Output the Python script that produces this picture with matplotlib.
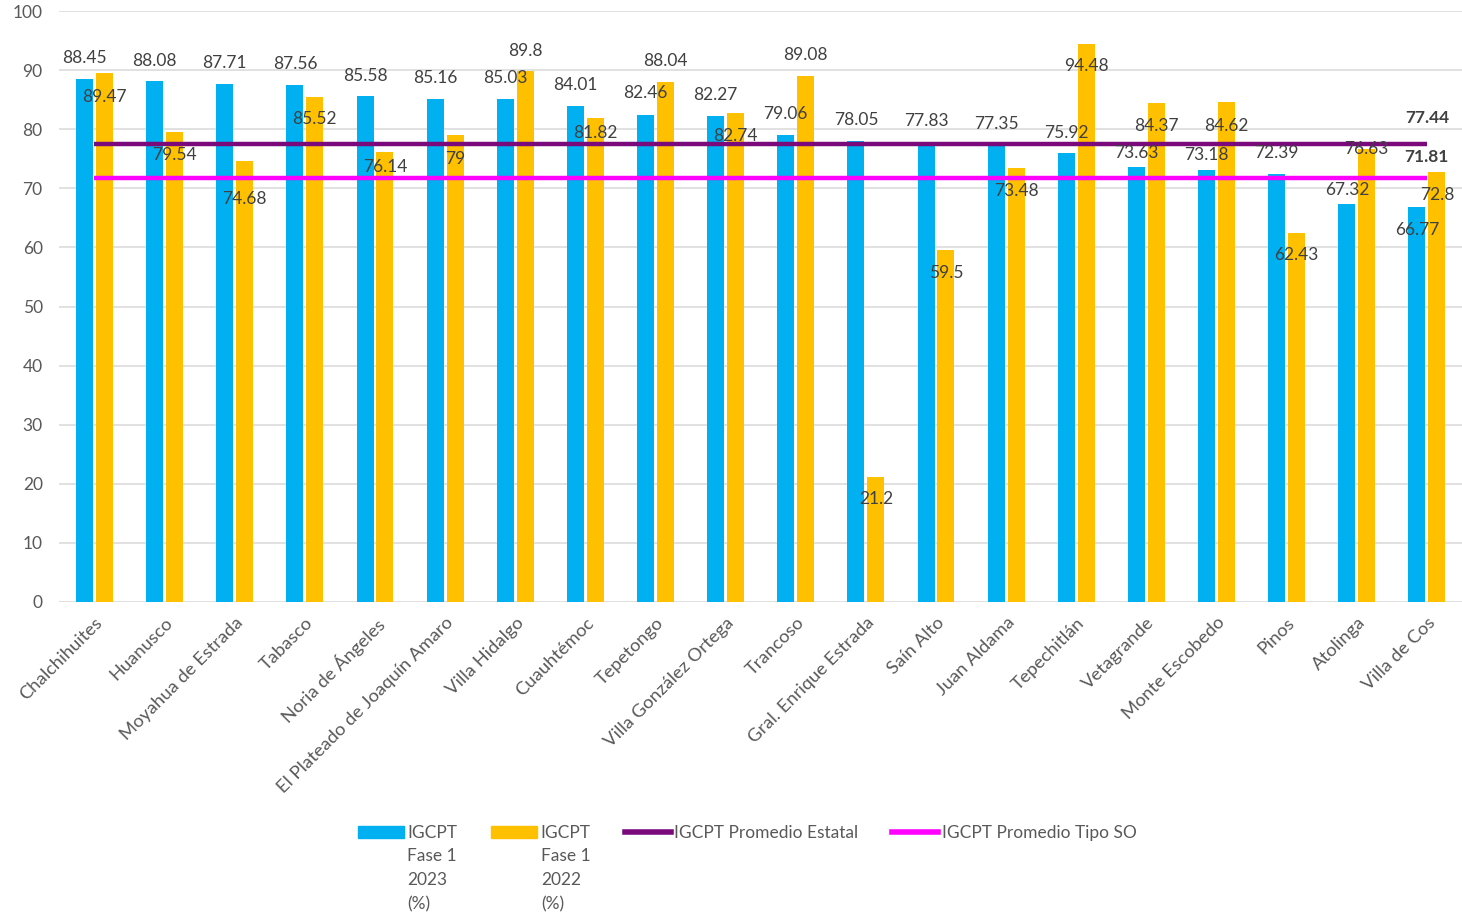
import matplotlib
matplotlib.use("Agg")
import matplotlib.pyplot as plt
import numpy as np

plt.rcParams["font.family"] = ["Lato", "DejaVu Sans"]

municipios = [
    "Chalchihuites", "Huanusco", "Moyahua de Estrada", "Tabasco", "Noria de Ángeles",
    "El Plateado de Joaquín Amaro", "Villa Hidalgo", "Cuauhtémoc", "Tepetongo",
    "Villa González Ortega", "Trancoso", "Gral. Enrique Estrada", "Saín Alto",
    "Juan Aldama", "Tepechitlán", "Vetagrande", "Monte Escobedo", "Pinos",
    "Atolinga", "Villa de Cos",
]
fase1_2023 = [88.45, 88.08, 87.71, 87.56, 85.58, 85.16, 85.03, 84.01, 82.46, 82.27,
              79.06, 78.05, 77.83, 77.35, 75.92, 73.63, 73.18, 72.39, 67.32, 66.77]
fase1_2022 = [89.47, 79.54, 74.68, 85.52, 76.14, 79, 89.8, 81.82, 88.04, 82.74,
              89.08, 21.2, 59.5, 73.48, 94.48, 84.37, 84.62, 62.43, 76.63, 72.8]
promedio_estatal = 77.44
promedio_tipo_so = 71.81

label_y_2023 = [92.0, 91.5, 91.2, 91.0, 89.0, 88.7, 88.7, 87.5, 86.1, 85.8,
                82.6, 81.6, 81.4, 80.9, 79.4, 76.0, 75.6, 76.0, 69.7, 62.9]
label_y_2022 = [85.4, 75.6, 68.2, 81.7, 73.6, 75.0, 93.2, 79.4, 91.5, 78.8,
                92.5, 17.4, 55.7, 69.5, 90.7, 80.5, 80.5, 58.7, 76.6, 68.9]

C_BLUE = "#00B0F0"
C_YELLOW = "#FFC000"
C_PURPLE = "#7A0A7C"
C_MAGENTA = "#FF00FF"
C_TEXT = "#404040"
C_TICK = "#595959"
FS = 12.5

W, H = 1462, 915
fig = plt.figure(figsize=(W / 100, H / 100), dpi=100)
ax = fig.add_axes([59.4 / W, 1 - 602 / H, 1 - 59.4 / W, (602 - 11) / H])

x = np.arange(len(municipios))
bw = 0.242
off = 0.142
ax.bar(x - off, fase1_2023, bw, color=C_BLUE, zorder=2)
ax.bar(x + off, fase1_2022, bw, color=C_YELLOW, zorder=2)
ax.plot(x, np.full(len(x), promedio_estatal), color=C_PURPLE, lw=3.2, zorder=3,
        solid_capstyle="butt")
ax.plot(x, np.full(len(x), promedio_tipo_so), color=C_MAGENTA, lw=3.2, zorder=3,
        solid_capstyle="butt")

for i in range(len(x)):
    ax.text(x[i] - off, label_y_2023[i], f"{fase1_2023[i]:g}", ha="center", va="center",
            fontsize=FS, color=C_TEXT, zorder=4)
    ax.text(x[i] + off, label_y_2022[i], f"{fase1_2022[i]:g}", ha="center", va="center",
            fontsize=FS, color=C_TEXT, zorder=4)

ax.text(x[-1], 81.9, f"{promedio_estatal:g}", ha="center", va="center", fontsize=FS,
        color=C_TEXT, fontweight="bold", zorder=4)
ax.text(x[-1], 75.3, f"{promedio_tipo_so:g}", ha="center", va="center", fontsize=FS,
        color=C_TEXT, fontweight="bold", zorder=4)

ax.set_xlim(-0.5, len(x) - 0.5)
ax.set_ylim(0, 100)
ax.set_yticks(np.arange(0, 101, 10))
ax.yaxis.grid(True, color="#D9D9D9", lw=1.1, zorder=0)
ax.set_axisbelow(True)
for s in ax.spines.values():
    s.set_visible(False)
ax.tick_params(axis="both", length=0, labelsize=FS, colors=C_TICK)
ax.tick_params(axis="y", pad=12)
ax.set_xticks(x)
ax.set_xticklabels(municipios, rotation=45, ha="right", va="top", rotation_mode="anchor",
                   fontsize=13.2)
ax.tick_params(axis="x", pad=9)

handles = [
    plt.Rectangle((0, 0), 1, 1, color=C_BLUE),
    plt.Rectangle((0, 0), 1, 1, color=C_YELLOW),
    plt.Line2D([], [], color=C_PURPLE, lw=4),
    plt.Line2D([], [], color=C_MAGENTA, lw=4),
]
labels = ["IGCPT", "IGCPT", "IGCPT Promedio Estatal", "IGCPT Promedio Tipo SO"]
leg = fig.legend(handles, labels, loc="upper left", bbox_to_anchor=(358 / W, 1 - 825 / H),
                 ncol=4, frameon=False, fontsize=FS, handlelength=2.65, handleheight=0.75,
                 handletextpad=0.2, columnspacing=1.95, borderpad=0, borderaxespad=0,
                 labelcolor=C_TICK)

# second part of the wrapped bar labels, placed under the first line
fig.canvas.draw()
inv = fig.transFigure.inverted()
for t, rest in zip(leg.get_texts()[:2], ["Fase 1\n2023\n(%)", "Fase 1\n2022\n(%)"]):
    bb = t.get_window_extent()
    x0, y0 = inv.transform((bb.x0, bb.y0))
    fig.text(x0, y0 - 0.008, rest, ha="left", va="top", fontsize=FS, color=C_TICK,
             linespacing=1.62)

fig.savefig("out.png", dpi=100)
